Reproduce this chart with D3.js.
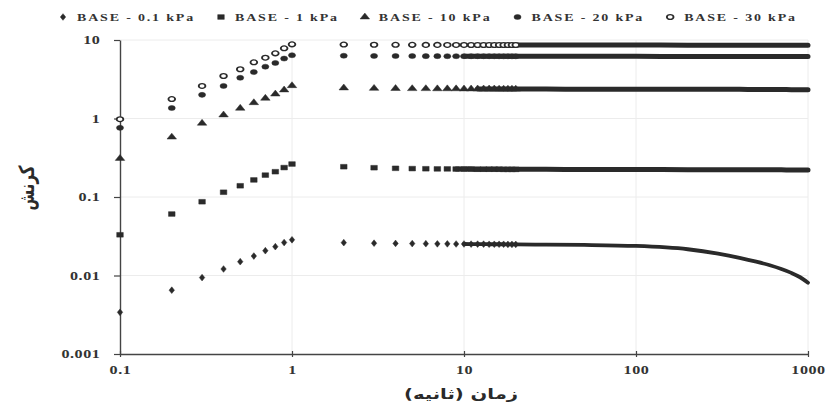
<!DOCTYPE html>
<html>
<head>
<meta charset="utf-8">
<script src="https://cdn.jsdelivr.net/npm/d3@7"></script>
<style>
  body { margin: 0; background: #fff; }
  svg { display: block; }
</style>
</head>
<body>
<svg id="chart" width="827" height="412"></svg>
<script>
// Sample times (s): dense sampling 0.1–1 s, then once per second afterwards
const earlyTimes = [0.1, 0.2, 0.3, 0.4, 0.5, 0.6, 0.7, 0.8, 0.9, 1.0];
const lateTimes = [2, 3, 4, 5, 6, 7, 8, 9, 10, 11, 12, 13, 14, 15, 16, 17, 18, 19, 20,
                   30, 50, 100, 200, 300, 400, 500, 600, 700, 800, 900, 1000];

const seriesNames = ["BASE - 0.1 kPa", "BASE - 1 kPa", "BASE - 10 kPa", "BASE - 20 kPa", "BASE - 30 kPa"];

// Strain values, loading phase (earlyTimes)
const base01Early = [0.0034, 0.0065, 0.0094, 0.0121, 0.0150, 0.0177, 0.0207, 0.0233, 0.0263, 0.0285];
const base1Early  = [0.033, 0.0607, 0.087, 0.115, 0.139, 0.165, 0.19, 0.21, 0.237, 0.263];
const base10Early = [0.31, 0.58, 0.87, 1.11, 1.35, 1.59, 1.81, 2.05, 2.31, 2.62];
const base20Early = [0.76, 1.36, 2.0, 2.6, 3.3, 3.9, 4.57, 5.1, 5.8, 6.4];
const base30Early = [0.98, 1.77, 2.6, 3.48, 4.24, 5.2, 5.95, 6.76, 7.84, 8.8];

// Strain values, holding phase (lateTimes)
const base01Late = [0.0262, 0.0258, 0.0256, 0.0255, 0.0254, 0.0253, 0.0253, 0.0252, 0.0252,
                    0.0251, 0.0251, 0.0251, 0.0250, 0.0250, 0.0250, 0.0250, 0.0249, 0.0249, 0.0249,
                    0.0247, 0.0245, 0.0238, 0.0216, 0.0190, 0.0168, 0.0150, 0.0135, 0.0121, 0.0108, 0.0095, 0.0081];
const base1Late  = [0.243, 0.236, 0.232, 0.230, 0.229, 0.228, 0.228, 0.227, 0.227,
                    0.227, 0.226, 0.226, 0.226, 0.226, 0.226, 0.225, 0.225, 0.225, 0.225,
                    0.225, 0.224, 0.224, 0.223, 0.223, 0.223, 0.222, 0.222, 0.222, 0.221, 0.221, 0.221];
const base10Late = [2.45, 2.42, 2.41, 2.40, 2.40, 2.39, 2.39, 2.39, 2.38,
                    2.38, 2.38, 2.38, 2.38, 2.38, 2.37, 2.37, 2.37, 2.37, 2.37,
                    2.37, 2.36, 2.36, 2.35, 2.35, 2.35, 2.34, 2.34, 2.34, 2.33, 2.33, 2.33];
const base20Late = [6.3, 6.27, 6.25, 6.24, 6.23, 6.23, 6.22, 6.22, 6.22,
                    6.21, 6.21, 6.21, 6.21, 6.21, 6.2, 6.2, 6.2, 6.2, 6.2,
                    6.2, 6.19, 6.19, 6.18, 6.18, 6.18, 6.17, 6.17, 6.17, 6.16, 6.16, 6.16];
const base30Late = [8.75, 8.7, 8.68, 8.67, 8.66, 8.66, 8.65, 8.65, 8.65,
                    8.64, 8.64, 8.64, 8.64, 8.64, 8.63, 8.63, 8.63, 8.63, 8.63,
                    8.62, 8.62, 8.61, 8.6, 8.6, 8.6, 8.59, 8.59, 8.59, 8.58, 8.58, 8.58];

const xTickValues = [0.1, 1, 10, 100, 1000];
const yTickValues = [0.001, 0.01, 0.1, 1, 10];
const xTitle = "زمان (ثانیه)";
const yTitle = "کرنش";

// ---- layout & style ----
const STRETCH = 1.4;          // wide glyphs / markers
const ink = "#2a2a2a";
const serif = "'Liberation Serif', 'DejaVu Serif', serif";
const arabicFont = "'DejaVu Sans', sans-serif";

const svg = d3.select("#chart");
const x = d3.scaleLog().domain([0.1, 1000]).range([120, 808]);
const y = d3.scaleLog().domain([0.001, 10]).range([354, 40]);

const series = [
  { name: seriesNames[0], early: base01Early, late: base01Late, symbol: d3.symbolDiamond, size: 13, open: false, band: 3.8, bandFrom: 10 },
  { name: seriesNames[1], early: base1Early,  late: base1Late,  symbol: d3.symbolSquare,  size: 22, open: false, band: 5,   bandFrom: 9 },
  { name: seriesNames[2], early: base10Early, late: base10Late, symbol: d3.symbolTriangle, size: 20, open: false, band: 5,  bandFrom: 12 },
  { name: seriesNames[3], early: base20Early, late: base20Late, symbol: d3.symbolCircle,  size: 20, open: false, band: 5,   bandFrom: 10 },
  { name: seriesNames[4], early: base30Early, late: base30Late, symbol: d3.symbolCircle,  size: 18, open: true,  band: 5,   bandFrom: 20 }
];
series.forEach(s => {
  s.points = earlyTimes.map((t, i) => ({ t, v: s.early[i] }))
    .concat(lateTimes.map((t, i) => ({ t, v: s.late[i] })));
});

// ---- grid ----
const grid = svg.append("g").attr("stroke", "#ececec").attr("stroke-width", 1);
grid.selectAll("line.gx").data(xTickValues.slice(1)).join("line")
  .attr("x1", d => x(d)).attr("x2", d => x(d))
  .attr("y1", y(10)).attr("y2", y(0.001));
grid.selectAll("line.gy").data(yTickValues.slice(1)).join("line")
  .attr("x1", x(0.1)).attr("x2", x(1000))
  .attr("y1", d => y(d)).attr("y2", d => y(d));

// ---- axes ----
function styleAxis(g) {
  g.select(".domain").attr("stroke", "#444").attr("stroke-width", 1.4);
  g.selectAll(".tick line").attr("stroke", "#444").attr("stroke-width", 1.2);
  g.selectAll(".tick text")
    .attr("fill", "#333")
    .style("font-family", serif)
    .style("font-weight", "bold")
    .style("font-size", "11.5px")
    .style("letter-spacing", "0.4px");
}

const xAxis = svg.append("g")
  .attr("transform", `translate(0,${y(0.001)})`)
  .call(d3.axisBottom(x).tickValues(xTickValues).tickFormat(d3.format("~g"))
        .tickSizeOuter(0).tickSizeInner(3).tickPadding(9))
  .call(styleAxis);
xAxis.selectAll(".tick line").attr("y1", -3).attr("y2", 3);
xAxis.selectAll(".tick text").attr("transform", `scale(${STRETCH},1)`);

const yAxis = svg.append("g")
  .attr("transform", `translate(${x(0.1)},0)`)
  .call(d3.axisLeft(y).tickValues(yTickValues).tickFormat(d3.format("~g"))
        .tickSizeOuter(0).tickSizeInner(6).tickPadding(8))
  .call(styleAxis);
yAxis.selectAll(".tick text").attr("transform", `scale(${STRETCH},1)`);

// ---- series: merged marker band, then individual markers ----
const line = d3.line().x(d => x(d.t)).y(d => y(d.v)).curve(d3.curveMonotoneX);

series.forEach(s => {
  svg.append("path")
    .datum(s.points.filter(p => p.t >= s.bandFrom))
    .attr("fill", "none")
    .attr("stroke", ink)
    .attr("stroke-width", s.band)
    .attr("stroke-linecap", "round")
    .attr("d", line);
});

function drawSymbol(sel, s) {
  sel.attr("d", d3.symbol().type(s.symbol).size(s.size)())
    .attr("fill", s.open ? "#fff" : ink)
    .attr("stroke", ink)
    .attr("stroke-width", s.open ? 1.3 : 0.4);
}

series.forEach(s => {
  svg.append("g").selectAll("path")
    .data(s.points.filter(p => p.t <= 20))
    .join("path")
    .attr("transform", d => `translate(${x(d.t)},${y(d.v)}) scale(${STRETCH},1)`)
    .call(drawSymbol, s);
});

// ---- legend ----
const legend = svg.append("g").attr("transform", "translate(0,17)");
let cx = 63;
series.forEach(s => {
  legend.append("path")
    .attr("transform", `translate(${cx},0) scale(${STRETCH},1)`)
    .call(drawSymbol, s);
  const tg = legend.append("g").attr("transform", `translate(${cx + 14},0) scale(${STRETCH},1)`);
  const txt = tg.append("text")
    .attr("dy", "0.35em")
    .attr("fill", "#333")
    .style("font-family", serif)
    .style("font-weight", "bold")
    .style("font-size", "10px")
    .style("letter-spacing", "1.3px")
    .text(s.name);
  const w = txt.node().getComputedTextLength() * STRETCH;
  cx += 14 + w + 26;
});

// ---- axis titles ----
svg.append("g")
  .attr("transform", `translate(${(x(0.1) + x(1000)) / 2 - 3},399) scale(${STRETCH},1)`)
  .append("text")
  .attr("text-anchor", "middle")
  .attr("fill", "#2a2a2a")
  .style("font-family", arabicFont)
  .style("font-weight", "bold")
  .style("font-size", "14px")
  .text(xTitle);

svg.append("g")
  .attr("transform", `translate(34,188) scale(${STRETCH},1) rotate(-90)`)
  .append("text")
  .attr("text-anchor", "middle")
  .attr("fill", "#2a2a2a")
  .style("font-family", arabicFont)
  .style("font-weight", "bold")
  .style("font-size", "15px")
  .text(yTitle);
</script>
</body>
</html>
